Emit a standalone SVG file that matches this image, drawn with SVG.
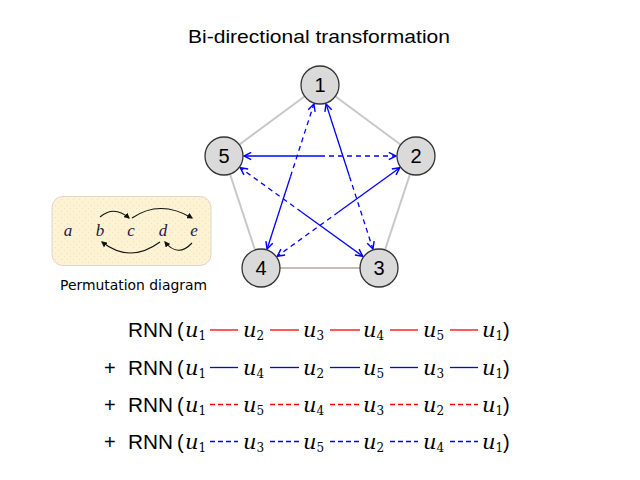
<svg xmlns="http://www.w3.org/2000/svg" width="640" height="480" viewBox="0 0 640 480">
<style>
.title{font-family:"Liberation Sans",Arial,sans-serif;font-size:19px;fill:#000}
.node circle{fill:#dadada;stroke:#333;stroke-width:1.3}
.node text{font-family:"Liberation Sans",Arial,sans-serif;font-size:20px;text-anchor:middle;fill:#000}
.pent{stroke:#c8c8c8;stroke-width:2}
.pent2{stroke:#c6bdb6;stroke-width:2}
.bs{stroke:#0000ff;stroke-width:1.3;fill:none;marker-end:url(#ba)}
.bd{stroke:#0000ff;stroke-width:1.3;fill:none;stroke-dasharray:5,4;marker-end:url(#ba)}
.lt{font-family:"Liberation Serif","Times New Roman",serif;font-style:italic;font-size:17px;fill:#1a1a40;text-anchor:middle}
.pa{stroke:#111;stroke-width:1.1;fill:none;marker-end:url(#ka)}
.plab{font-family:"DejaVu Sans",sans-serif;font-size:14px;fill:#000}
.eq{font-family:"Liberation Sans",Arial,sans-serif;font-size:20px;fill:#000}
.m{font-family:"DejaVu Serif",serif;font-style:italic;font-size:21px;fill:#000}
.sub{font-family:"DejaVu Serif",serif;font-style:normal;font-size:12px}
.rs{stroke:#ff0000;stroke-width:1.3}
.rd{stroke:#ff0000;stroke-width:1.3;stroke-dasharray:5,3}
.ls{stroke:#0000ff;stroke-width:1.3}
.ld{stroke:#0000ff;stroke-width:1.3;stroke-dasharray:5,3}
</style>
<defs>
<marker id="ba" viewBox="0 0 10 10" refX="9" refY="5" markerWidth="9" markerHeight="9" markerUnits="userSpaceOnUse" orient="auto">
<path d="M1,1 L9,5 L1,9" fill="none" stroke="#0000ff" stroke-width="1.6"/>
</marker>
<marker id="ka" viewBox="0 0 10 10" refX="8" refY="5" markerWidth="6" markerHeight="6" markerUnits="userSpaceOnUse" orient="auto">
<path d="M0,0 L10,5 L0,10 z" fill="#111"/>
</marker>
<pattern id="dots" width="6" height="6" patternUnits="userSpaceOnUse">
<rect width="6" height="6" fill="#fdf2d2"/>
<circle cx="1.5" cy="1.5" r="0.5" fill="#e8d9c0"/>
<circle cx="4.5" cy="4.5" r="0.5" fill="#e6dccd"/>
</pattern>
</defs>
<rect width="640" height="480" fill="#fff"/>
<text class="title" x="319" y="43" text-anchor="middle" textLength="262" lengthAdjust="spacingAndGlyphs">Bi-directional transformation</text>

<g id="connectors">
<line class="pent" x1="320" y1="85" x2="416" y2="156"/>
<line class="pent" x1="416" y1="156" x2="379" y2="268"/>
<line class="pent2" x1="379" y1="268" x2="261" y2="268"/>
<line class="pent" x1="261" y1="268" x2="224" y2="156"/>
<line class="pent" x1="224" y1="156" x2="320" y2="85"/>
<line class="bs" x1="320" y1="156" x2="244" y2="156"/>
<line class="bd" x1="320" y1="156" x2="396" y2="156"/>
<line class="bd" x1="290.5" y1="176.5" x2="313.9" y2="104"/>
<line class="bs" x1="290.5" y1="176.5" x2="267.1" y2="249"/>
<line class="bs" x1="349.5" y1="176.5" x2="326.1" y2="104"/>
<line class="bd" x1="349.5" y1="176.5" x2="372.9" y2="249"/>
<line class="bd" x1="301.5" y1="212" x2="240.2" y2="167.7"/>
<line class="bs" x1="301.5" y1="212" x2="362.8" y2="256.3"/>
<line class="bs" x1="338.5" y1="212" x2="399.8" y2="167.7"/>
<line class="bd" x1="338.5" y1="212" x2="277.2" y2="256.3"/>
</g>

<g id="n1" class="node"><circle cx="320" cy="85" r="19"/><text x="320" y="92">1</text></g>
<g id="n2" class="node"><circle cx="416" cy="156" r="19"/><text x="416" y="163">2</text></g>
<g id="n3" class="node"><circle cx="379" cy="268" r="19"/><text x="379" y="275">3</text></g>
<g id="n4" class="node"><circle cx="261" cy="268" r="19"/><text x="261" y="275">4</text></g>
<g id="n5" class="node"><circle cx="224" cy="156" r="19"/><text x="224" y="163">5</text></g>

<g id="permutation">
<rect x="52" y="196.5" width="159" height="69" rx="11" fill="url(#dots)" stroke="#dcd6cc" stroke-width="1"/>
<text class="lt" x="68" y="236">a</text>
<text class="lt" x="100" y="236">b</text>
<text class="lt" x="131" y="236">c</text>
<text class="lt" x="163" y="236">d</text>
<text class="lt" x="194" y="236">e</text>
<path class="pa" d="M100,217 Q114,205 129,218"/>
<path class="pa" d="M132,218 Q160,199 192,218"/>
<path class="pa" d="M160,242 Q130,264 102,242"/>
<path class="pa" d="M192,243 Q178,258 165,242"/>
<text class="plab" x="60" y="290" textLength="147" lengthAdjust="spacingAndGlyphs">Permutation diagram</text>
</g>

<g id="equations">
<text class="eq" x="128" y="337" textLength="45" lengthAdjust="spacingAndGlyphs">RNN</text>
<text class="eq" x="177" y="337">(</text>
<text class="m" x="185" y="337">u<tspan class="sub" dy="3">1</tspan></text>
<text class="m" x="243" y="337">u<tspan class="sub" dy="3">2</tspan></text>
<text class="m" x="303" y="337">u<tspan class="sub" dy="3">3</tspan></text>
<text class="m" x="363" y="337">u<tspan class="sub" dy="3">4</tspan></text>
<text class="m" x="423" y="337">u<tspan class="sub" dy="3">5</tspan></text>
<text class="m" x="482" y="337">u<tspan class="sub" dy="3">1</tspan></text>
<text class="eq" x="503" y="337">)</text>
<line class="rs" x1="210" y1="330" x2="238" y2="330"/>
<line class="rs" x1="270" y1="330" x2="299" y2="330"/>
<line class="rs" x1="330" y1="330" x2="360" y2="330"/>
<line class="rs" x1="390" y1="330" x2="418" y2="330"/>
<line class="rs" x1="450" y1="330" x2="478" y2="330"/>

<text class="eq" x="104" y="374.5">+</text>
<text class="eq" x="128" y="374.5" textLength="45" lengthAdjust="spacingAndGlyphs">RNN</text>
<text class="eq" x="177" y="374.5">(</text>
<text class="m" x="185" y="374.5">u<tspan class="sub" dy="3">1</tspan></text>
<text class="m" x="243" y="374.5">u<tspan class="sub" dy="3">4</tspan></text>
<text class="m" x="303" y="374.5">u<tspan class="sub" dy="3">2</tspan></text>
<text class="m" x="363" y="374.5">u<tspan class="sub" dy="3">5</tspan></text>
<text class="m" x="423" y="374.5">u<tspan class="sub" dy="3">3</tspan></text>
<text class="m" x="482" y="374.5">u<tspan class="sub" dy="3">1</tspan></text>
<text class="eq" x="503" y="374.5">)</text>
<line class="ls" x1="210" y1="367.5" x2="238" y2="367.5"/>
<line class="ls" x1="270" y1="367.5" x2="299" y2="367.5"/>
<line class="ls" x1="330" y1="367.5" x2="360" y2="367.5"/>
<line class="ls" x1="390" y1="367.5" x2="418" y2="367.5"/>
<line class="ls" x1="450" y1="367.5" x2="478" y2="367.5"/>

<text class="eq" x="104" y="411.5">+</text>
<text class="eq" x="128" y="411.5" textLength="45" lengthAdjust="spacingAndGlyphs">RNN</text>
<text class="eq" x="177" y="411.5">(</text>
<text class="m" x="185" y="411.5">u<tspan class="sub" dy="3">1</tspan></text>
<text class="m" x="243" y="411.5">u<tspan class="sub" dy="3">5</tspan></text>
<text class="m" x="303" y="411.5">u<tspan class="sub" dy="3">4</tspan></text>
<text class="m" x="363" y="411.5">u<tspan class="sub" dy="3">3</tspan></text>
<text class="m" x="423" y="411.5">u<tspan class="sub" dy="3">2</tspan></text>
<text class="m" x="482" y="411.5">u<tspan class="sub" dy="3">1</tspan></text>
<text class="eq" x="503" y="411.5">)</text>
<line class="rd" x1="210" y1="404.5" x2="238" y2="404.5"/>
<line class="rd" x1="270" y1="404.5" x2="299" y2="404.5"/>
<line class="rd" x1="330" y1="404.5" x2="360" y2="404.5"/>
<line class="rd" x1="390" y1="404.5" x2="418" y2="404.5"/>
<line class="rd" x1="450" y1="404.5" x2="478" y2="404.5"/>

<text class="eq" x="104" y="448.5">+</text>
<text class="eq" x="128" y="448.5" textLength="45" lengthAdjust="spacingAndGlyphs">RNN</text>
<text class="eq" x="177" y="448.5">(</text>
<text class="m" x="185" y="448.5">u<tspan class="sub" dy="3">1</tspan></text>
<text class="m" x="243" y="448.5">u<tspan class="sub" dy="3">3</tspan></text>
<text class="m" x="303" y="448.5">u<tspan class="sub" dy="3">5</tspan></text>
<text class="m" x="363" y="448.5">u<tspan class="sub" dy="3">2</tspan></text>
<text class="m" x="423" y="448.5">u<tspan class="sub" dy="3">4</tspan></text>
<text class="m" x="482" y="448.5">u<tspan class="sub" dy="3">1</tspan></text>
<text class="eq" x="503" y="448.5">)</text>
<line class="ld" x1="210" y1="441.5" x2="238" y2="441.5"/>
<line class="ld" x1="270" y1="441.5" x2="299" y2="441.5"/>
<line class="ld" x1="330" y1="441.5" x2="360" y2="441.5"/>
<line class="ld" x1="390" y1="441.5" x2="418" y2="441.5"/>
<line class="ld" x1="450" y1="441.5" x2="478" y2="441.5"/>
</g>
</svg>
